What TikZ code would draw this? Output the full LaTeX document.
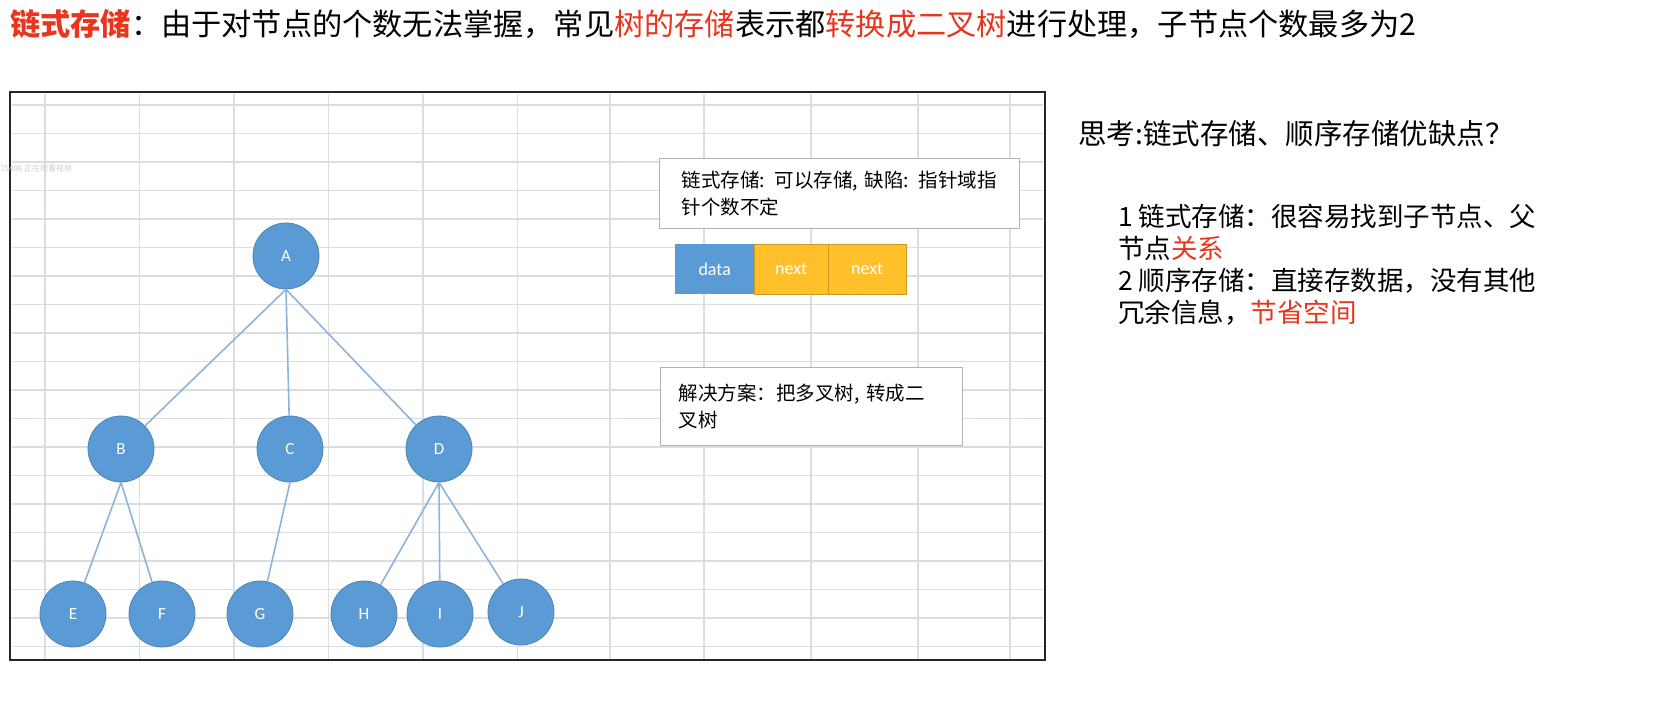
\documentclass[tikz,border=0pt]{standalone}
\usepackage{fontspec}
\setmainfont{Noto Sans CJK SC}
\newfontfamily\latinsans{Carlito}
\definecolor{nodeblue}{HTML}{5B9BD5}
\definecolor{edgeblue}{HTML}{8DB4DC}
\definecolor{ylw}{HTML}{FFC02A}
\definecolor{hl}{HTML}{E8361E}
\definecolor{gridc}{HTML}{DADDE3}
\tikzset{
  tn/.style={circle,fill=nodeblue,draw=nodeblue!85!black,line width=0.8pt,minimum size=66pt,inner sep=0pt,text=white,font=\latinsans\fontsize{17}{17}\selectfont},
  tedge/.style={draw=edgeblue,line width=1.6pt},
  note/.style={draw=gray!60,line width=1.2pt,fill=white,align=left,anchor=north west,inner sep=0pt,font=\fontsize{19.5}{27}\selectfont},
  cell/.style={minimum height=50pt,inner sep=0pt,text=white,font=\latinsans\fontsize{18}{18}\selectfont,anchor=north west},
  txt/.style={anchor=west,inner sep=0pt},
}
\begin{document}
\begin{tikzpicture}[x=1pt,y=-1pt]
\useasboundingbox[fill=white] (0,0) rectangle (1672,717);
% title
\node[txt,font=\fontsize{30.2}{31}\selectfont] (title) at (10,24) {\textcolor{hl}{\textbf{链式存储}}：由于对节点的个数无法掌握，常见\textcolor{hl}{树的存储}表示都\textcolor{hl}{转换成二叉树}进行处理，子节点个数最多为2};
% grid
\foreach \y in {105,133.5,162,190.5,219,247.5,276,304.5,333,361.5,390,418.5,447,475.5,504,532.5,561,589.5,618,646.5}
  \draw[gridc,line width=1.2pt] (12,\y) -- (1043,\y);
\foreach \x in {45,139.5,234,328.5,423,517.5,610,704,811,918,1010}
  \draw[gridc,line width=1.2pt] (\x,94) -- (\x,659);
\draw[black!85,line width=1.6pt] (10,92) rectangle (1045,660);
\node[txt,text=gray!40,font=\fontsize{8}{8}\selectfont] (wm) at (0,168) {75406 正在观看视频};
% tree
\node[tn] (A) at (286,256) {A};
\node[tn] (B) at (121,449) {B};
\node[tn] (C) at (290,449) {C};
\node[tn] (D) at (439,449) {D};
\node[tn] (E) at (73,614) {E};
\node[tn] (F) at (162,614) {F};
\node[tn] (G) at (260,614) {G};
\node[tn] (H) at (364,614) {H};
\node[tn] (I) at (440,614) {I};
\node[tn] (J) at (521,612) {J};
\foreach \c in {B,C,D} \draw[tedge] (A.south) -- (\c);
\foreach \c in {E,F} \draw[tedge] (B.south) -- (\c);
\draw[tedge] (C.south) -- (G);
\foreach \c in {H,I,J} \draw[tedge] (D.south) -- (\c);
% notes
\node[note,minimum width=360pt,minimum height=70pt,text width=340pt] (n1) at (659,158) {\hspace*{12pt}链式存储: 可以存储, 缺陷: 指针域指\\\hspace*{12pt}针个数不定};
\node[cell,fill=nodeblue,minimum width=79pt] (data) at (675,244) {data};
\node[cell,fill=ylw,draw=ylw!80!black,minimum width=74pt] (n2) at (754,244) {next};
\node[cell,fill=ylw,draw=ylw!80!black,minimum width=78pt] (n3) at (828,244) {next};
\node[note,minimum width=302pt,minimum height=78pt,text width=290pt] (n4) at (660,367) {\hspace*{12pt}解决方案：把多叉树, 转成二\\\hspace*{12pt}叉树};
% right text
\node[txt,font=\fontsize{28.5}{29}\selectfont] (q) at (1078,134) {思考:链式存储、顺序存储优缺点？};
\begin{scope}[font=\fontsize{26.5}{27}\selectfont]
\node[txt] (l1) at (1118,216) {1 链式存储：很容易找到子节点、父};
\node[txt] (l2) at (1118,248) {节点\textcolor{hl}{关系}};
\node[txt] (l3) at (1118,281) {2 顺序存储：直接存数据，没有其他};
\node[txt] (l4) at (1118,313) {冗余信息，\textcolor{hl}{节省空间}};
\end{scope}
\end{tikzpicture}
\end{document}
